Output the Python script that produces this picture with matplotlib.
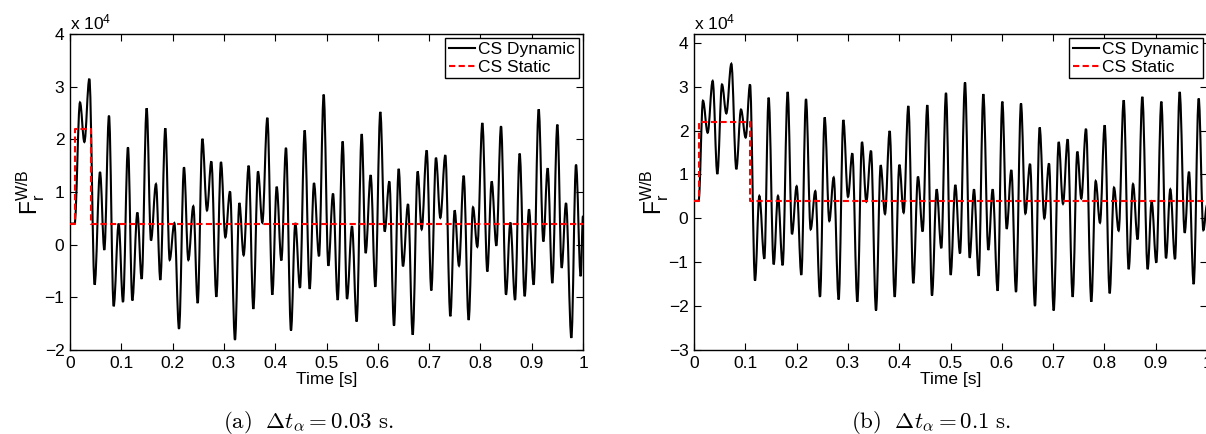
import numpy as np
import matplotlib.pyplot as plt
from matplotlib.path import Path
from matplotlib.patches import PathPatch
from matplotlib.lines import Line2D
from matplotlib.ticker import FuncFormatter

plt.rcParams['font.family'] = ['Liberation Sans', 'DejaVu Sans']
plt.rcParams['mathtext.fontset'] = 'custom'
plt.rcParams['mathtext.rm'] = 'Liberation Sans'
plt.rcParams['mathtext.it'] = 'Liberation Sans:italic'

SCALE = 1e4  # values below are in units of 10^4

# (a) dt_alpha = 0.03 s -- turning points of the dynamic force
t_dyn_a = [0.0, 0.009, 0.0195, 0.028, 0.0377, 0.048, 0.0585, 0.0669, 0.076, 0.0851,
           0.0949, 0.1033, 0.113, 0.1215, 0.1313, 0.1397, 0.1494, 0.1579, 0.1676, 0.1761,
           0.1858, 0.1943, 0.2034, 0.2125, 0.2222, 0.2307, 0.2404, 0.2489,
           0.258, 0.267, 0.2755, 0.2853, 0.2943, 0.3028, 0.3119, 0.3216, 0.3301, 0.3385,
           0.3483, 0.3574, 0.3665, 0.3749, 0.3847, 0.3944, 0.4029, 0.412, 0.421, 0.4308,
           0.4392, 0.4483, 0.4574, 0.4672, 0.4756, 0.4854, 0.4945,
           0.5036, 0.5127, 0.5218, 0.5315, 0.54, 0.5497, 0.5588, 0.5686, 0.5763, 0.5861,
           0.5952, 0.6049, 0.6134, 0.6225, 0.6316, 0.6407, 0.6491, 0.6589, 0.668, 0.6777,
           0.6855, 0.6953, 0.7043, 0.7134, 0.7219, 0.7316, 0.7414,
           0.7498, 0.7583, 0.7674, 0.7771, 0.7856, 0.794, 0.8038, 0.8135, 0.822, 0.8311,
           0.8402, 0.8499, 0.8584, 0.8675, 0.8765, 0.8863, 0.8947, 0.9038, 0.9136, 0.9227,
           0.9311, 0.9402, 0.95, 0.9584, 0.9669, 0.9773, 0.9864, 0.9955, 1.0]
f_dyn_a = [0.4, 0.4, 2.7, 1.95, 3.15, -0.76, 1.38, -0.1, 2.45, -1.17,
           0.4, -1.09, 1.85, -1.06, 0.61, -0.65, 2.59, 0.08, 1.15, -0.67,
           2.21, -0.29, 0.41, -1.6, 1.47, -0.29, 0.73, -1.11,
           2.01, 0.65, 1.58, -0.99, 1.57, 0.14, 1.01, -1.81, 0.79, -0.2,
           1.5, -1.22, 1.39, 0.42, 2.41, -0.95, 1.1, -0.3, 1.84, -1.63,
           0.41, -0.82, 2.17, -0.84, 1.17, -0.22, 2.85,
           -0.4, 0.97, -1.05, 1.96, -1.03, 0.35, -1.46, 2.1, -0.16, 1.32,
           -0.8, 2.52, 0.25, 1.2, -1.54, 1.44, -0.41, 0.77, -1.71, 1.39,
           0.29, 1.79, -0.87, 1.65, 0.51, 1.7, -1.36,
           0.65, -0.4, 1.31, -1.43, 0.71, -0.04, 2.31, -0.51, 1.2, -0.02,
           2.25, -0.95, 0.42, -1.05, 1.73, -0.98, 0.67, -0.76, 2.57, 0.06,
           1.45, -0.73, 2.28, -0.44, 0.79, -1.77, 1.52, -0.6, 0.55]
t_stat_a = [0.0, 0.01, 0.04, 1.0]
f_stat_a = [0.4, 2.2, 0.4, 0.4]

# (b) dt_alpha = 0.1 s
t_dyn_b = [0.0, 0.009, 0.0175, 0.0266, 0.0364, 0.0455, 0.0546, 0.063, 0.0728, 0.0825,
           0.0916, 0.1007, 0.1092, 0.1189, 0.1274, 0.1371, 0.1455, 0.1553, 0.1637, 0.1728,
           0.1826, 0.191, 0.2001, 0.2092, 0.2183, 0.2274, 0.2365, 0.2456,
           0.2547, 0.2638, 0.2723, 0.282, 0.2911, 0.3002, 0.3086, 0.3184, 0.3275, 0.3359,
           0.345, 0.3548, 0.3639, 0.3723, 0.3814, 0.3912, 0.4003, 0.4087, 0.4178, 0.4275,
           0.4366, 0.4457, 0.4548, 0.4639, 0.473, 0.4821, 0.4912,
           0.5003, 0.5094, 0.5185, 0.5283, 0.5374, 0.5458, 0.5549, 0.564, 0.5737, 0.5822,
           0.5919, 0.601, 0.6095, 0.6186, 0.6277, 0.6374, 0.6459, 0.655, 0.6647, 0.6738,
           0.6829, 0.692, 0.7011, 0.7109, 0.7193, 0.7284, 0.7381,
           0.7472, 0.755, 0.7641, 0.7745, 0.783, 0.7914, 0.8005, 0.8103, 0.8187, 0.8278,
           0.8376, 0.8473, 0.8558, 0.8648, 0.8739, 0.8843, 0.8921, 0.9012, 0.911, 0.9201,
           0.9285, 0.9376, 0.9467, 0.9565, 0.9649, 0.974, 0.9838, 0.9929, 1.0]
f_dyn_b = [0.4, 0.4, 2.68, 1.95, 3.13, 1.01, 3.05, 2.39, 3.52, 1.12,
           2.48, 1.84, 3.05, -1.42, 0.51, -0.92, 2.75, -1.05, 0.51, -1.07,
           2.88, -0.36, 0.73, -1.29, 2.72, -0.25, 0.62, -1.79,
           2.3, -0.06, 0.93, -1.85, 2.24, 0.49, 1.48, -1.9, 1.74, 0.38,
           1.54, -2.1, 1.21, 0.1, 1.99, -1.79, 1.22, 0.13, 2.56, -1.48,
           0.95, -0.3, 2.58, -1.76, 0.66, -0.68, 2.86,
           -1.29, 0.76, -0.8, 3.1, -0.9, 0.66, -1.31, 2.83, -0.72, 0.66,
           -1.65, 2.66, -0.24, 1.1, -1.68, 2.62, 0.11, 1.24, -2.0, 2.07,
           0.0, 1.25, -2.1, 1.74, 0.33, 1.8, -1.79,
           1.52, 0.45, 2.04, -1.9, 0.85, -0.1, 2.12, -1.71, 0.7, -0.28,
           2.69, -1.16, 0.78, -0.48, 2.77, -1.16, 0.38, -1.01, 2.66, -0.91,
           0.66, -0.93, 2.88, -0.33, 1.06, -1.5, 2.73, -0.27, 0.3]
t_stat_b = [0.0, 0.01, 0.11, 1.0]
f_stat_b = [0.4, 2.2, 0.4, 0.4]

panels = [
    dict(t=t_dyn_a, f=f_dyn_a, ts=t_stat_a, fs=f_stat_a, ylim=(-2, 4),
         yticks=range(-2, 5), caption=r'$\mathrm{(a)}\ \ \Delta t_\alpha = 0.03\ \mathrm{s.}$',
         rect=[70, 34, 513, 316], cap_x=308),
    dict(t=t_dyn_b, f=f_dyn_b, ts=t_stat_b, fs=f_stat_b, ylim=(-3, 4.2),
         yticks=range(-3, 5), caption=r'$\mathrm{(b)}\ \ \Delta t_\alpha = 0.1\ \mathrm{s.}$',
         rect=[694, 34, 513, 316], cap_x=931),
]


def smooth_path(t, f, k=0.36):
    """Smooth curve through the turning points (horizontal tangent at each)."""
    verts = [(t[0], f[0] * SCALE)]
    codes = [Path.MOVETO]
    for t0, f0, t1, f1 in zip(t[:-1], f[:-1], t[1:], f[1:]):
        d = t1 - t0
        verts += [(t0 + k * d, f0 * SCALE), (t1 - k * d, f1 * SCALE), (t1, f1 * SCALE)]
        codes += [Path.CURVE4] * 3
    return Path(verts, codes)


W, H = 1206, 434
fig = plt.figure(figsize=(W / 100, H / 100), dpi=100)

for p in panels:
    assert len(p['t']) == len(p['f'])
    x0, y0, w, h = p['rect']
    ax = fig.add_axes([x0 / W, (H - y0 - h) / H, w / W, h / H])

    ax.add_patch(PathPatch(smooth_path(p['t'], p['f']), facecolor='none',
                           edgecolor='black', lw=1.5, zorder=2))
    ax.plot(p['ts'], np.array(p['fs']) * SCALE, color='red', lw=1.5,
            dashes=(3, 1.6), drawstyle='steps-post', zorder=3, label='CS Static')

    ax.set_xlim(0, 1)
    ax.set_ylim(p['ylim'][0] * SCALE, p['ylim'][1] * SCALE)
    ax.set_xticks(np.arange(0, 1.01, 0.1))
    ax.set_yticks([v * SCALE for v in p['yticks']])
    ax.xaxis.set_major_formatter(FuncFormatter(lambda x, _: f'{x:g}'))
    ax.yaxis.set_major_formatter(
        FuncFormatter(lambda y, _: f'{y / SCALE:g}'.replace('-', '\u2212')))
    ax.tick_params(direction='in', top=True, right=True, length=5, width=0.8,
                   labelsize=12.5, pad=4)
    for s in ax.spines.values():
        s.set_linewidth(1.0)

    ax.set_xlabel('Time [s]', fontsize=12.5, labelpad=1)
    ax.set_ylabel(r'F$_\mathrm{r}^\mathrm{W/B}$', fontsize=16.5, labelpad=-2)
    ax.text(0, 1.005, r'x 10$^4$', transform=ax.transAxes, fontsize=12.5,
            ha='left', va='bottom')

    handles = [Line2D([], [], color='black', lw=1.5, label='CS Dynamic'),
               ax.get_lines()[0]]
    leg = ax.legend(handles=handles, loc='upper right', fontsize=12.5, fancybox=False,
                    framealpha=1, edgecolor='black', borderpad=0.2, labelspacing=0.15,
                    handlelength=1.5, handletextpad=0.2, borderaxespad=0.25)
    leg.get_frame().set_linewidth(1.0)

    fig.text(p['cap_x'] / W, 1 - 422 / H, p['caption'], fontsize=16.5,
             ha='center', va='center', math_fontfamily='cm')

fig.savefig('out.png', dpi=100)
